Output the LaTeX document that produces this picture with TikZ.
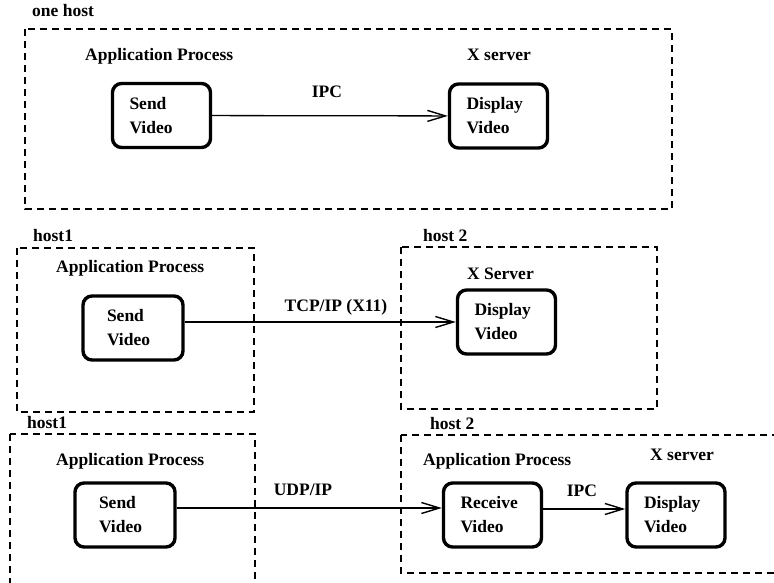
\documentclass[tikz,border=0pt]{standalone}
\usepackage{fontspec}
\setmainfont{Liberation Serif}
\usetikzlibrary{arrows.meta}

\begin{document}
\begin{tikzpicture}[x=1pt,y=-1pt,
  hostbox/.style={black,line width=1.5pt,dash pattern=on 7pt off 5pt},
  task/.style={draw=black,line width=3.4pt,rounded corners=9pt,minimum height=64pt,
    text width=64pt,inner xsep=17pt,inner ysep=0pt,align=left,
    font=\bfseries\fontsize{17.5}{24}\selectfont},
  wide/.style={text width=52pt,inner xsep=24pt},
  lbl/.style={inner sep=0pt,anchor=base west,font=\bfseries\fontsize{17.5}{20}\selectfont},
  msg/.style={inner sep=0pt,anchor=base,font=\bfseries\fontsize{17.5}{20}\selectfont},
  link/.style={black,line width=1.3pt,-{Straight Barb[length=18pt,width=11pt,line width=1.4pt]}}]
\useasboundingbox (0,0) rectangle (774,583);
\clip (0,0) rectangle (774,583);
% one host
\draw [hostbox] (25,29) rectangle (672,209);
\node [lbl] (onehost) at (32,17) {one host};
\node [lbl] (app1) at (85,61) {Application Process};
\node [lbl] (xsrv1) at (467,61) {X server};
\node [task] (send1) at (161.5,115.5) {Send\\Video};
\node [task] (disp1) at (498.5,116) {Display\\Video};
\draw [link] (send1) -- (disp1);
\node [msg] (ipc1) at (327,98) {IPC};
% X11 over tcp
\draw [hostbox] (17,248) rectangle (254,412);
\draw [hostbox] (401,247) rectangle (657,409);
\node [lbl] (hosta) at (33,241) {host1};
\node [lbl] (hostb) at (423,241) {host 2};
\node [lbl] (app2) at (56,272) {Application Process};
\node [lbl] (xsrv2) at (467,279) {X Server};
\node [task,wide] (send2) at (133,328) {Send\\Video};
\node [task] (disp2) at (506.5,322) {Display\\Video};
\draw [link] (send2.east |- disp2.west) -- (disp2.west);
\node [msg] (tcp) at (336,311) {TCP/IP (X11)};
% udp + ipc
\draw [hostbox] (10,434) rectangle (255,600);
\draw [hostbox] (401,435) rectangle (800,573);
\node [lbl] (hostc) at (27,428) {host1};
\node [lbl] (hostd) at (430,429) {host 2};
\node [lbl] (app3) at (56,465) {Application Process};
\node [lbl] (app4) at (423,465) {Application Process};
\node [lbl] (xsrv3) at (650,460) {X server};
\node [task,wide] (send3) at (125,515) {Send\\Video};
\node [task] (recv) at (492.5,515) {Receive\\Video};
\node [task] (disp3) at (676,515) {Display\\Video};
\draw [link] ([yshift=7pt]send3.east) -- ([yshift=7pt]recv.west);
\draw [link] ([yshift=6pt]recv.east) -- ([yshift=6pt]disp3.west);
\node [msg] (udp) at (303,495) {UDP/IP};
\node [msg] (ipc2) at (582,496) {IPC};
\end{tikzpicture}
\end{document}
